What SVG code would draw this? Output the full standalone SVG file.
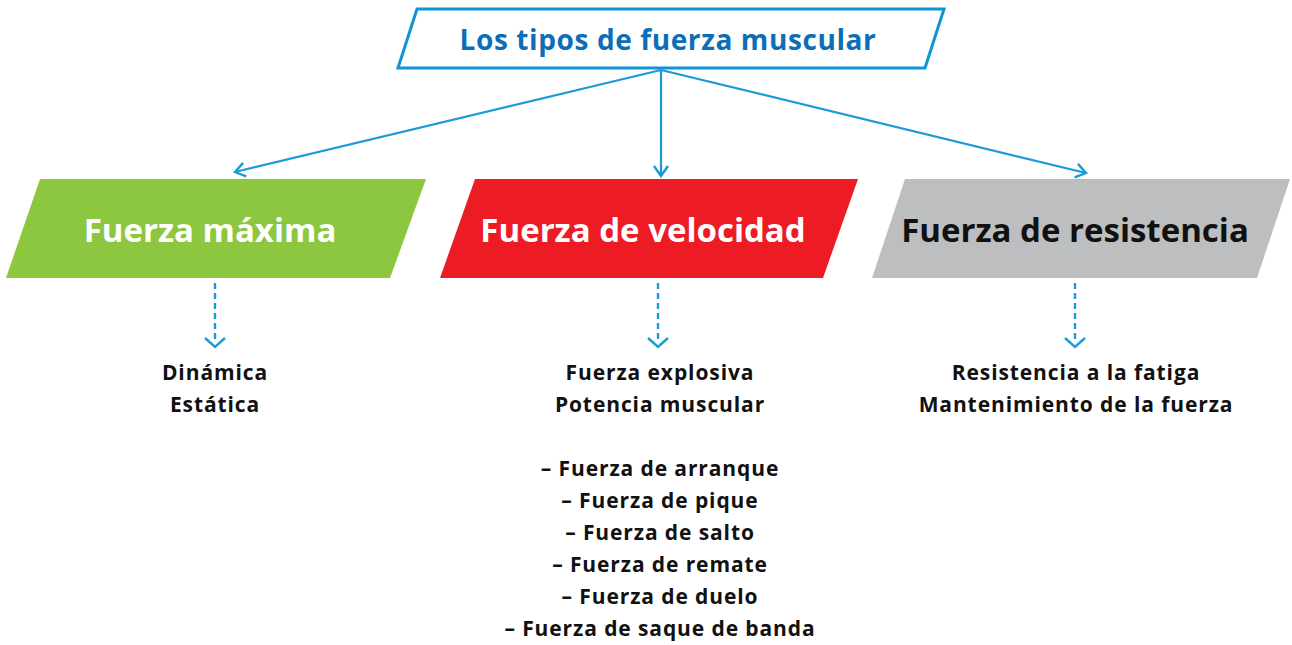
<svg xmlns="http://www.w3.org/2000/svg" width="1292" height="645" viewBox="0 0 1292 645">
<defs>
<style>
.conn{stroke:#1b9ad7;stroke-width:2.2;fill:none}
.dot{stroke:#1b9ad7;stroke-width:2.4;fill:none;stroke-dasharray:6 4}
.head{stroke:#1b9ad7;stroke-width:2.4;fill:none;stroke-linejoin:miter}
.title{font-family:"Open Sans","Liberation Sans",sans-serif;font-weight:700;font-size:28px;letter-spacing:0.6px;fill:#0b6fb8;text-anchor:middle}
.big{font-family:"Open Sans","Liberation Sans",sans-serif;font-weight:700;font-size:33px;text-anchor:middle}
.item{font-family:"Open Sans","Liberation Sans",sans-serif;font-weight:700;font-size:21px;letter-spacing:0.9px;fill:#111;text-anchor:middle}
</style>
<marker id="ah" viewBox="-12 -8 14 16" markerWidth="14" markerHeight="16" refX="0" refY="0" orient="auto" markerUnits="userSpaceOnUse">
<path d="M-10,-7 L0,0 L-10,7" fill="none" stroke="#1b9ad7" stroke-width="2.4"/>
</marker>
</defs>
<rect width="1292" height="645" fill="#fff"/>
<g id="connectors">
<line class="conn" x1="661" y1="70" x2="235" y2="172" marker-end="url(#ah)"/>
<line class="conn" x1="661" y1="70" x2="661" y2="176" marker-end="url(#ah)"/>
<line class="conn" x1="661" y1="70" x2="1086" y2="173" marker-end="url(#ah)"/>
<line class="dot" x1="215" y1="283" x2="215" y2="343"/>
<path class="head" d="M205,338 L215,347 L225,338"/>
<line class="dot" x1="658" y1="283" x2="658" y2="343"/>
<path class="head" d="M648,338 L658,347 L668,338"/>
<line class="dot" x1="1075" y1="283" x2="1075" y2="343"/>
<path class="head" d="M1065,338 L1075,347 L1085,338"/>
</g>
<g id="title">
<polygon points="417,9 944,9 925,68 398,68" fill="#fff" stroke="#0f94d4" stroke-width="3"/>
<text class="title" x="668" y="50">Los tipos de fuerza muscular</text>
</g>
<g id="maxima">
<polygon points="40,179 426,179 390,278 6,278" fill="#8dc63f"/>
<text class="big" x="210" y="242" fill="#fff">Fuerza máxima</text>
</g>
<g id="velocidad">
<polygon points="475,179 858,179 823,278 440,278" fill="#ed1c24"/>
<text class="big" x="643" y="242" fill="#fff">Fuerza de velocidad</text>
</g>
<g id="resistencia">
<polygon points="905,179 1290,179 1257,278 872,278" fill="#bcbec0"/>
<text class="big" x="1075" y="242" fill="#111">Fuerza de resistencia</text>
</g>
<g id="list-maxima">
<text class="item" x="215" y="380">Dinámica</text>
<text class="item" x="215" y="412">Estática</text>
</g>
<g id="list-velocidad">
<text class="item" x="660" y="380">Fuerza explosiva</text>
<text class="item" x="660" y="412">Potencia muscular</text>
<text class="item" x="660" y="476">– Fuerza de arranque</text>
<text class="item" x="660" y="508">– Fuerza de pique</text>
<text class="item" x="660" y="540">– Fuerza de salto</text>
<text class="item" x="660" y="572">– Fuerza de remate</text>
<text class="item" x="660" y="604">– Fuerza de duelo</text>
<text class="item" x="660" y="636">– Fuerza de saque de banda</text>
</g>
<g id="list-resistencia">
<text class="item" x="1076" y="380">Resistencia a la fatiga</text>
<text class="item" x="1076" y="412">Mantenimiento de la fuerza</text>
</g>
</svg>
